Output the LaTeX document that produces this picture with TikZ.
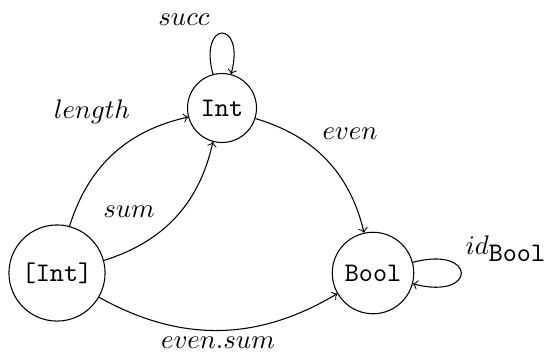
\documentclass[tikz,border=0pt]{standalone}
\usetikzlibrary{arrows}
\begin{document}
\begin{tikzpicture}[x=0.373pt,y=-0.373pt,
  state/.style={draw,circle,font=\ttfamily},
  lbl/.style={inner sep=0pt}]
\useasboundingbox (0,0) rectangle (544,353);
\node[state] (int) at (222,108) {Int};
\node[state] (lint) at (57,273) {[Int]};
\node[state] (bool) at (373,273) {Bool};
\draw[->] (lint) to[bend left=30] (int);
\draw[->] (lint) to[bend right=30] (int);
\draw[->] (int) to[bend left=30] (bool);
\draw[->] (lint) to[bend right=30] (bool);
\draw[->] (int) to[loop above] (int);
\draw[->] (bool) to[loop right] (bool);
\node[lbl] (lsucc) at (184,20) {$succ$};
\node[lbl] (llength) at (92,112) {$length$};
\node[lbl] (lsum) at (129,212) {$sum$};
\node[lbl] (leven) at (350,134) {$even$};
\node[lbl] (levensum) at (218,343) {$even.sum$};
\node[lbl] (lid) at (506,249) {$id_{\hbox{\texttt{Bool}}}$};
\end{tikzpicture}
\end{document}
